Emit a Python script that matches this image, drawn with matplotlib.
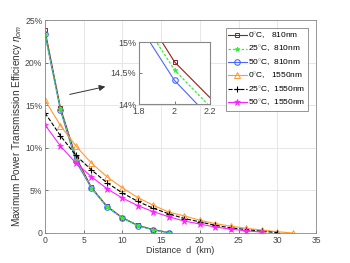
import numpy as np
import matplotlib.pyplot as plt

plt.rcParams['font.family'] = ['Liberation Sans', 'DejaVu Sans']
plt.rcParams['font.size'] = 6
plt.rcParams['mathtext.fontset'] = 'custom'
plt.rcParams['mathtext.rm'] = 'Liberation Sans'
plt.rcParams['mathtext.it'] = 'Liberation Sans:italic'

# distancias (km)
d_810 = [0, 2, 4, 6, 8, 10, 12, 14, 16]
d_1550_0 = list(range(0, 33, 2))
d_1550_25 = list(range(0, 31, 2))
d_1550_50 = list(range(0, 29, 2))

# eficiencia (%)
eta_810_0 = [23.8, 14.68, 8.9, 5.35, 3.15, 1.8, 0.9, 0.4, 0.05]
eta_810_25 = [23.4, 14.55, 8.6, 5.3, 3.1, 1.75, 0.88, 0.38, 0.05]
eta_810_50 = [23.3, 14.38, 8.4, 5.25, 3.05, 1.75, 0.85, 0.35, 0.03]
eta_1550_0 = [15.6, 12.6, 10.2, 8.2, 6.6, 5.3, 4.15, 3.25, 2.45, 2.0, 1.5,
              1.1, 0.8, 0.55, 0.35, 0.15, 0.0]
eta_1550_25 = [14.1, 11.4, 9.1, 7.4, 5.9, 4.7, 3.7, 2.9, 2.25, 1.7, 1.3,
               0.9, 0.6, 0.4, 0.2, 0.05]
eta_1550_50 = [12.7, 10.2, 8.2, 6.6, 5.2, 4.1, 3.2, 2.5, 1.9, 1.4, 1.05,
               0.7, 0.45, 0.25, 0.1]

labels = ['0$^{\\circ}$C,   810nm', '25$^{\\circ}$C,  810nm', '50$^{\\circ}$C,  810nm',
          '0$^{\\circ}$C,   1550nm', '25$^{\\circ}$C,  1550nm', '50$^{\\circ}$C,  1550nm']

c_rojo = '#9b1c1c'
c_verde = '#33ee33'
c_azul = '#4a66ff'
c_naranja = '#ff9933'
c_negro = 'black'
c_magenta = '#ff22ff'


def dibujar(ax, ms=1.0):
    ax.plot(d_810, eta_810_0, '-', color=c_rojo, lw=0.8, marker='s', ms=3.5*ms,
            mfc='none', mew=0.7, label=labels[0])
    ax.plot(d_810, eta_810_50, '-', color=c_azul, lw=0.8, marker='o', ms=4*ms,
            mfc='none', mew=0.8, label=labels[2])
    ax.plot(d_810, eta_810_25, '--', color=c_verde, lw=0.9, marker='*', ms=3.5*ms,
            mew=0.6, dashes=(2, 1.5), label=labels[1])
    ax.plot(d_1550_0, eta_1550_0, '-', color=c_naranja, lw=0.8, marker='^', ms=4.5*ms,
            mfc='none', mew=0.7, label=labels[3])
    ax.plot(d_1550_25, eta_1550_25, '--', color=c_negro, lw=0.8, marker='+', ms=4.5*ms,
            mew=0.8, label=labels[4])
    ax.plot(d_1550_50, eta_1550_50, '-', color=c_magenta, lw=0.8, marker='*', ms=5*ms,
            mew=0.5, label=labels[5])


fig = plt.figure(figsize=(3.5, 2.63), dpi=100)
ax = fig.add_axes([45/350, 1-233/263, 271/350, 213/263])
dibujar(ax)
ax.set_xlim(0, 35)
ax.set_ylim(0, 25)
ax.set_xticks(range(0, 36, 5))
ax.set_yticks([0, 5, 10, 15, 20, 25])
ax.set_yticklabels(['0', '5%', '10%', '15%', '20%', '25%'])
ax.grid(True, color='#e3e3e3', lw=0.6)
ax.set_axisbelow(True)
for s in ax.spines.values():
    s.set_color('#888888')
    s.set_linewidth(0.6)
ax.tick_params(colors='#444444', labelsize=6.2, length=2, width=0.5, direction='in', pad=2)
ax.set_xlabel('Distance  d  (km)', fontsize=6.5, color='#333333', labelpad=1)
ax.set_ylabel('Maximum Power Transmission Efficiency $\\eta_{om}$', fontsize=7.2,
              color='#333333', labelpad=1)

# orden de leyenda
h, l = ax.get_legend_handles_labels()
orden = [0, 2, 1, 3, 4, 5]
leg = ax.legend([h[i] for i in orden], [l[i] for i in orden], loc='upper right',
                bbox_to_anchor=(308/350, 1-28/263), bbox_transform=fig.transFigure,
                borderaxespad=0, fontsize=6, frameon=True, fancybox=False,
                handlelength=2.2, handletextpad=0.2, labelspacing=0.35, borderpad=0.3)
leg.get_frame().set_edgecolor('#666666')
leg.get_frame().set_linewidth(0.6)

# recuadro ampliado
axi = fig.add_axes([139/350, 1-104/263, 71/350, 62/263])
dibujar(axi)
axi.set_xlim(1.8, 2.2)
axi.set_ylim(14, 15)
axi.set_xticks([1.8, 2, 2.2])
axi.set_xticklabels(['1.8', '2', '2.2'])
axi.set_yticks([14, 14.5, 15])
axi.set_yticklabels(['14%', '14.5%', '15%'])
for s in axi.spines.values():
    s.set_color('#888888')
    s.set_linewidth(0.8)
axi.tick_params(colors='#444444', labelsize=6.5, length=2, width=0.5, direction='in', pad=2)

ax.annotate('', xy=(108/350, 1-86/263), xytext=(67/350, 1-95/263),
            xycoords='figure fraction', textcoords='figure fraction',
            arrowprops=dict(arrowstyle='-|>', color='#333333', lw=0.7, mutation_scale=9))

fig.savefig('out.png', dpi=100)
